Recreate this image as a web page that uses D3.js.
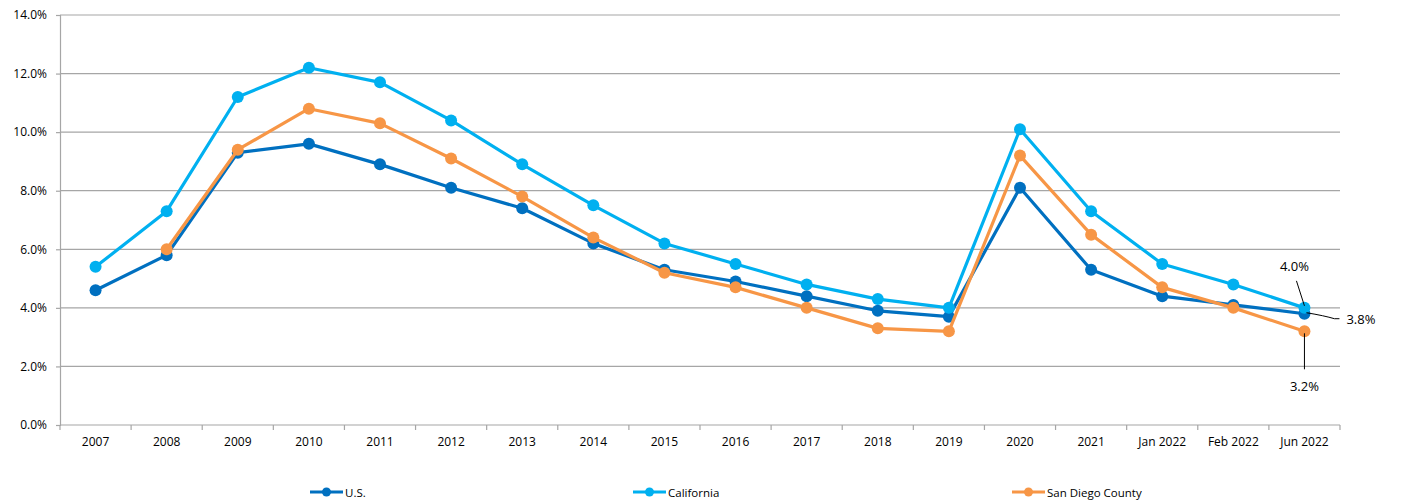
<!DOCTYPE html>
<html>
<head>
<meta charset="utf-8">
<script src="https://cdn.jsdelivr.net/npm/d3@7"></script>
<style>
  html, body { margin: 0; padding: 0; background: #fff; overflow: hidden; }
  svg { display: block; }
</style>
</head>
<body>
<div id="chart"></div>
<script>
// Unemployment rate: U.S. vs California vs San Diego County
const categories = ['2007', '2008', '2009', '2010', '2011', '2012', '2013', '2014', '2015',
  '2016', '2017', '2018', '2019', '2020', '2021', 'Jan 2022', 'Feb 2022', 'Jun 2022'];
const usValues = [4.6, 5.8, 9.3, 9.6, 8.9, 8.1, 7.4, 6.2, 5.3, 4.9, 4.4, 3.9, 3.7, 8.1, 5.3, 4.4, 4.1, 3.8];
const caValues = [5.4, 7.3, 11.2, 12.2, 11.7, 10.4, 8.9, 7.5, 6.2, 5.5, 4.8, 4.3, 4.0, 10.1, 7.3, 5.5, 4.8, 4.0];
const sdValues = [null, 6.0, 9.4, 10.8, 10.3, 9.1, 7.8, 6.4, 5.2, 4.7, 4.0, 3.3, 3.2, 9.2, 6.5, 4.7, 4.0, 3.2];
const yTicks = [0, 2, 4, 6, 8, 10, 12, 14];

const series = [
  { name: 'U.S.', values: usValues, color: '#0070C0' },
  { name: 'California', values: caValues, color: '#00B0F0' },
  { name: 'San Diego County', values: sdValues, color: '#F79646' }
];

const FONT = '"Open Sans", "Liberation Sans", sans-serif';
const width = 1402, height = 501;
const margin = { top: 15, right: 62, bottom: 76, left: 60 };
const innerWidth = width - margin.left - margin.right;
const innerHeight = height - margin.top - margin.bottom;

const svg = d3.select('#chart').append('svg')
  .attr('width', width)
  .attr('height', height)
  .attr('font-family', FONT);

const g = svg.append('g')
  .attr('transform', `translate(${margin.left},${margin.top})`);

const x = d3.scaleBand().domain(categories).range([0, innerWidth]);
const y = d3.scaleLinear().domain([0, 14]).range([innerHeight, 0]);
const cx = d => x(d) + x.bandwidth() / 2;

// Gridlines
g.append('g')
  .selectAll('line')
  .data(yTicks.filter(t => t > 0))
  .join('line')
  .attr('x1', 0).attr('x2', innerWidth)
  .attr('y1', d => y(d)).attr('y2', d => y(d))
  .attr('stroke', '#a6a6a6').attr('stroke-width', 1.2);

// Y axis
const yAxis = g.append('g')
  .call(d3.axisLeft(y).tickValues(yTicks).tickFormat(d => d.toFixed(1) + '%').tickSize(4).tickPadding(9));
yAxis.attr('font-family', FONT).attr('font-size', 12);
yAxis.select('.domain').attr('stroke', '#a6a6a6').attr('stroke-width', 1.2);
yAxis.selectAll('.tick line').attr('stroke', '#a6a6a6').attr('stroke-width', 1.2);
yAxis.selectAll('text').attr('fill', '#000');

// X axis with ticks between categories
const xAxis = g.append('g').attr('transform', `translate(0,${innerHeight})`);
xAxis.append('line')
  .attr('x1', 0).attr('x2', innerWidth)
  .attr('stroke', '#a6a6a6').attr('stroke-width', 1.2);
xAxis.selectAll('.sep')
  .data(categories.concat(['end']))
  .join('line')
  .attr('class', 'sep')
  .attr('x1', (d, i) => i * x.step()).attr('x2', (d, i) => i * x.step())
  .attr('y1', 0).attr('y2', 5)
  .attr('stroke', '#a6a6a6').attr('stroke-width', 1.2);
xAxis.selectAll('text')
  .data(categories)
  .join('text')
  .attr('x', d => cx(d))
  .attr('y', 21)
  .attr('text-anchor', 'middle')
  .attr('font-size', 12)
  .attr('fill', '#000')
  .text(d => d);

// Lines and markers
const line = d3.line()
  .defined(d => d.v != null)
  .x(d => cx(d.c))
  .y(d => y(d.v));

series.forEach(s => {
  const pts = categories.map((c, i) => ({ c, v: s.values[i] }));
  g.append('path')
    .datum(pts)
    .attr('d', line)
    .attr('fill', 'none')
    .attr('stroke', s.color)
    .attr('stroke-width', 3.2)
    .attr('stroke-linejoin', 'round');
  g.append('g')
    .selectAll('circle')
    .data(pts.filter(d => d.v != null))
    .join('circle')
    .attr('cx', d => cx(d.c))
    .attr('cy', d => y(d.v))
    .attr('r', 6)
    .attr('fill', s.color);
});

// Callouts for the last point
const last = categories[categories.length - 1];
const lx = cx(last);
const ca = caValues[caValues.length - 1];
const us = usValues[usValues.length - 1];
const sd = sdValues[sdValues.length - 1];

g.append('line')
  .attr('x1', lx - 8).attr('y1', y(ca) - 27)
  .attr('x2', lx).attr('y2', y(ca) - 2)
  .attr('stroke', '#000').attr('stroke-width', 1);
g.append('text')
  .attr('x', lx - 10).attr('y', y(ca) - 37)
  .attr('text-anchor', 'middle').attr('font-size', 13).attr('fill', '#000')
  .text(ca.toFixed(1) + '%');

g.append('path')
  .attr('d', `M${lx + 2},${y(us) - 1} Q${lx + 20},${y(us) + 2} ${lx + 30},${y(us) + 5} L${lx + 35},${y(us) + 5}`)
  .attr('fill', 'none')
  .attr('stroke', '#000').attr('stroke-width', 1);
g.append('text')
  .attr('x', lx + 42).attr('y', y(us) + 10)
  .attr('font-size', 13).attr('fill', '#000')
  .text(us.toFixed(1) + '%');

g.append('line')
  .attr('x1', lx).attr('y1', y(sd) + 2)
  .attr('x2', lx).attr('y2', y(sd) + 38)
  .attr('stroke', '#000').attr('stroke-width', 1);
g.append('text')
  .attr('x', lx).attr('y', y(sd) + 60)
  .attr('text-anchor', 'middle').attr('font-size', 13).attr('fill', '#000')
  .text(sd.toFixed(1) + '%');

// Legend
const legendX = [310, 633, 1012];
const legend = svg.append('g')
  .selectAll('g')
  .data(series)
  .join('g')
  .attr('transform', (d, i) => `translate(${legendX[i]},492)`);
legend.append('line')
  .attr('x1', 0).attr('x2', 33)
  .attr('stroke', d => d.color).attr('stroke-width', 3.2);
legend.append('circle')
  .attr('cx', 16.5).attr('r', 4.5)
  .attr('fill', d => d.color);
legend.append('text')
  .attr('x', 35).attr('y', 4.5)
  .attr('font-size', 11.5).attr('fill', '#000')
  .text(d => d.name);
</script>
</body>
</html>
